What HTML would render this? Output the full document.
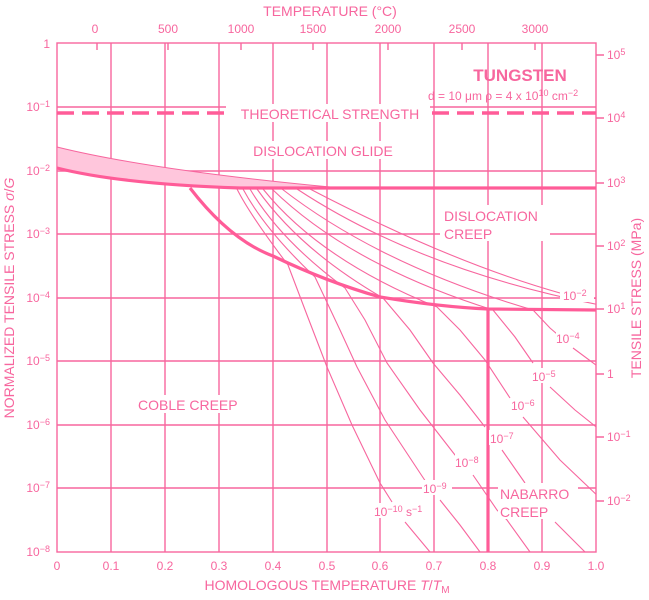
<!DOCTYPE html>
<html><head><meta charset="utf-8"><style>
body{margin:0;background:#fff}
svg{display:block}
text{font-family:"Liberation Sans",sans-serif;fill:#f7669e}
</style></head><body>
<svg width="649" height="600" viewBox="0 0 649 600" xmlns="http://www.w3.org/2000/svg">
<defs>
<clipPath id="pa"><rect x="57" y="43" width="539" height="509"/></clipPath>
</defs>
<g stroke="#f7669e" fill="none" stroke-width="1.4">
<path d="M111 43V552M165 43V552M219 43V552M273 43V552M327 43V552M380 43V552M434 43V552M488 43V552M542 43V552"/>
<path d="M57 107H596M57 171H596M57 234H596M57 298H596M57 361H596M57 425H596M57 488H596"/>
<rect x="57" y="43" width="539" height="509"/>
<path d="M97 43v7M168 43v7M241 43v7M313 43v7M388 43v7M462 43v7M535 43v7"/>
<path d="M596 55h8M596 118h8M596 183h8M596 246h8M596 309h8M596 374h8M596 437h8M596 501h8"/>
</g>
<path d="M57 147 Q150 170 330 187 L240 188 Q120 184 57 168Z" fill="#ffc6dc" stroke="#f7669e" stroke-width="1"/>
<g clip-path="url(#pa)" stroke="#f7669e" fill="none" stroke-width="1.1">
<path d="M237 189Q250 215 288 265M243 189Q265 230 315 277M250 189Q280 240 345 288M257 189Q300 250 383 298M263 189Q320 260 437 307M272 189Q350 265 493 310M282 189Q380 265 533 310M297 189Q420 270 600 305M310 189Q450 262 560 293M590 298L600 299"/>
<path d="M288 265L307 315L327 367L352 425L380 483L392 502M405 522L430 552"/>
<path d="M315 277L340 330L357 367L385 420L420 473L428 485M440 500L460 525L480 552"/>
<path d="M345 288L365 320L387 363L420 410L455 455L458 458M473 475L497 510L507 520L530 552"/>
<path d="M383 298L410 330L433 363L460 395L485 427M502 450L525 483M555 522L585 552"/>
<path d="M437 307L460 330L485 360L510 398M523 417L560 460L600 498"/>
<path d="M493 310L515 337L533 363M550 387L575 410L600 430"/>
<path d="M533 310L550 328L557 334M573 348L600 368"/>
</g>
<g stroke="#ff5c98" fill="none" stroke-width="3.2">
<path d="M57 168Q120 184 240 188L596 188"/>
<path d="M190 188Q230 240 273 256Q327 282 380 297Q440 307 488 309L596 310"/>
<path d="M488 309V552"/>
<path d="M57 113H596" stroke-dasharray="17 8" stroke-width="3.5"/>
</g>
<g fill="#fff">
<rect x="226" y="104" width="204" height="18"/>
<rect x="243" y="141" width="160" height="18"/>
<rect x="440" y="205" width="110" height="36"/>
<rect x="135" y="395" width="112" height="18"/>
<rect x="498" y="483" width="80" height="36"/>
<rect x="560" y="288" width="34" height="14"/>
<rect x="556" y="330" width="26" height="15"/>
<rect x="531" y="368" width="28" height="15"/>
<rect x="511" y="398" width="28" height="15"/>
<rect x="489" y="430" width="30" height="15"/>
<rect x="455" y="454" width="28" height="15"/>
<rect x="422" y="480" width="30" height="15"/>
<rect x="373" y="503" width="56" height="15"/>
</g>
<g font-size="14">
<text x="330" y="119" text-anchor="middle">THEORETICAL STRENGTH</text>
<text x="323" y="156" text-anchor="middle">DISLOCATION GLIDE</text>
<text x="444" y="221">DISLOCATION</text>
<text x="444" y="239">CREEP</text>
<text x="138" y="410">COBLE CREEP</text>
<text x="500" y="499">NABARRO</text>
<text x="500" y="517">CREEP</text>
<text x="330" y="16" text-anchor="middle">TEMPERATURE (°C)</text>
<text x="327" y="590" text-anchor="middle">HOMOLOGOUS TEMPERATURE <tspan font-style="italic">T</tspan>/<tspan font-style="italic">T</tspan><tspan font-size="10" dy="3">M</tspan></text>
<text transform="translate(14 298) rotate(-90)" text-anchor="middle">NORMALIZED TENSILE STRESS <tspan font-style="italic">σ</tspan>/<tspan font-style="italic">G</tspan></text>
<text transform="translate(641 298) rotate(-90)" text-anchor="middle">TENSILE STRESS (MPa)</text>
<text x="520" y="81" text-anchor="middle" font-weight="bold" font-size="17">TUNGSTEN</text>
</g>
<g font-size="12">
<text x="428" y="100">d = 10 μm   ρ = 4 x 10<tspan font-size="9" dy="-4">10</tspan><tspan dy="4"> cm</tspan><tspan font-size="9" dy="-4">−2</tspan></text>
<text x="563" y="300">10<tspan font-size="9" dy="-4">−2</tspan></text>
<text x="556" y="343">10<tspan font-size="9" dy="-4">−4</tspan></text>
<text x="532" y="381">10<tspan font-size="9" dy="-4">−5</tspan></text>
<text x="511" y="410">10<tspan font-size="9" dy="-4">−6</tspan></text>
<text x="490" y="443">10<tspan font-size="9" dy="-4">−7</tspan></text>
<text x="455" y="467">10<tspan font-size="9" dy="-4">−8</tspan></text>
<text x="423" y="493">10<tspan font-size="9" dy="-4">−9</tspan></text>
<text x="374" y="516">10<tspan font-size="9" dy="-4">−10</tspan><tspan dy="4"> s</tspan><tspan font-size="9" dy="-4">−1</tspan></text>
</g>
<g font-size="12" text-anchor="middle">
<text x="95" y="33">0</text><text x="168" y="33">500</text><text x="241" y="33">1000</text><text x="313" y="33">1500</text><text x="388" y="33">2000</text><text x="462" y="33">2500</text><text x="535" y="33">3000</text>
<text x="57" y="570">0</text><text x="111" y="570">0.1</text><text x="165" y="570">0.2</text><text x="219" y="570">0.3</text><text x="273" y="570">0.4</text><text x="327" y="570">0.5</text><text x="380" y="570">0.6</text><text x="434" y="570">0.7</text><text x="488" y="570">0.8</text><text x="542" y="570">0.9</text><text x="596" y="570">1.0</text>
</g>
<g font-size="12" text-anchor="end">
<text x="50" y="48">1</text>
<text x="50" y="111">10<tspan font-size="9" dy="-4">−1</tspan></text>
<text x="50" y="175">10<tspan font-size="9" dy="-4">−2</tspan></text>
<text x="50" y="238">10<tspan font-size="9" dy="-4">−3</tspan></text>
<text x="50" y="302">10<tspan font-size="9" dy="-4">−4</tspan></text>
<text x="50" y="365">10<tspan font-size="9" dy="-4">−5</tspan></text>
<text x="50" y="429">10<tspan font-size="9" dy="-4">−6</tspan></text>
<text x="50" y="492">10<tspan font-size="9" dy="-4">−7</tspan></text>
<text x="50" y="556">10<tspan font-size="9" dy="-4">−8</tspan></text>
</g>
<g font-size="12">
<text x="607" y="59">10<tspan font-size="9" dy="-4">5</tspan></text>
<text x="607" y="122">10<tspan font-size="9" dy="-4">4</tspan></text>
<text x="607" y="187">10<tspan font-size="9" dy="-4">3</tspan></text>
<text x="607" y="250">10<tspan font-size="9" dy="-4">2</tspan></text>
<text x="607" y="313">10<tspan font-size="9" dy="-4">1</tspan></text>
<text x="607" y="378">1</text>
<text x="607" y="441">10<tspan font-size="9" dy="-4">−1</tspan></text>
<text x="607" y="505">10<tspan font-size="9" dy="-4">−2</tspan></text>
</g>
</svg>
</body></html>
